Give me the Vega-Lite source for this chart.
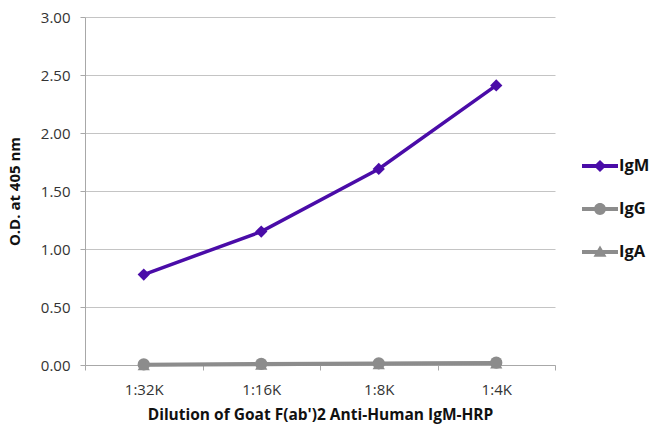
{
  "$schema": "https://vega.github.io/schema/vega-lite/v6.json",
  "width": 470,
  "height": 348,
  "autosize": {"type": "none"},
  "padding": {"left": 85, "top": 17, "right": 95, "bottom": 65},
  "background": "white",
  "config": {
    "view": {"stroke": null},
    "font": "Open Sans"
  },
  "data": {
    "values": [
      {"dilution": "1:32K", "series": "IgA", "od": 0.0, "ord": 1},
      {"dilution": "1:16K", "series": "IgA", "od": 0.005, "ord": 1},
      {"dilution": "1:8K", "series": "IgA", "od": 0.01, "ord": 1},
      {"dilution": "1:4K", "series": "IgA", "od": 0.015, "ord": 1},
      {"dilution": "1:32K", "series": "IgG", "od": 0.005, "ord": 2},
      {"dilution": "1:16K", "series": "IgG", "od": 0.01, "ord": 2},
      {"dilution": "1:8K", "series": "IgG", "od": 0.015, "ord": 2},
      {"dilution": "1:4K", "series": "IgG", "od": 0.02, "ord": 2},
      {"dilution": "1:32K", "series": "IgM", "od": 0.78, "ord": 3},
      {"dilution": "1:16K", "series": "IgM", "od": 1.15, "ord": 3},
      {"dilution": "1:8K", "series": "IgM", "od": 1.69, "ord": 3},
      {"dilution": "1:4K", "series": "IgM", "od": 2.41, "ord": 3}
    ]
  },
  "encoding": {
    "x": {
      "field": "dilution",
      "type": "nominal",
      "sort": ["1:32K", "1:16K", "1:8K", "1:4K"],
      "scale": {"paddingInner": 0, "paddingOuter": 0},
      "axis": {
        "title": "Dilution of Goat F(ab')2 Anti-Human IgM-HRP",
        "titleFont": "Open Sans",
        "titleFontSize": 15.5,
        "titleFontWeight": "bold",
        "titleColor": "#111111",
        "titlePadding": 10,
        "labelAngle": 0,
        "labelFont": "Open Sans",
        "labelFontSize": 15,
        "labelColor": "#333333",
        "labelPadding": 12,
        "tickBand": "extent",
        "tickSize": 5,
        "tickColor": "#a8a8a8",
        "domainColor": "#a8a8a8",
        "grid": false
      }
    },
    "y": {
      "field": "od",
      "type": "quantitative",
      "scale": {"domain": [0, 3]},
      "axis": {
        "title": "O.D. at 405 nm",
        "titleFont": "Open Sans",
        "titleFontSize": 15,
        "titleFontWeight": "bold",
        "titleColor": "#111111",
        "titlePadding": 18,
        "values": [0, 0.5, 1, 1.5, 2, 2.5, 3],
        "format": ".2f",
        "labelFont": "Open Sans",
        "labelFontSize": 15,
        "labelColor": "#333333",
        "labelPadding": 10,
        "tickSize": 5,
        "tickColor": "#a8a8a8",
        "domainColor": "#a8a8a8",
        "gridColor": "#c4c4c4",
        "grid": true
      }
    },
    "color": {
      "field": "series",
      "type": "nominal",
      "sort": ["IgM", "IgG", "IgA"],
      "scale": {"domain": ["IgM", "IgG", "IgA"], "range": ["#4a0ca8", "#8c8c8c", "#8c8c8c"]},
      "legend": {
        "title": null,
        "orient": "none",
        "legendX": 497,
        "legendY": 131,
        "symbolSize": 1296,
        "symbolOpacity": 1,
        "symbolStrokeWidth": 0,
        "rowPadding": 16,
        "labelFont": "Open Sans",
        "labelFontSize": 16.5,
        "labelFontWeight": "bold",
        "labelColor": "#111111",
        "labelOffset": 1
      }
    },
    "order": {"field": "ord"}
  },
  "layer": [
    {
      "mark": {"type": "line", "strokeWidth": 3.5},
      "encoding": {"detail": {"field": "series"}}
    },
    {
      "transform": [{"filter": "datum.series === 'IgA'"}],
      "mark": {"type": "point", "filled": true, "opacity": 1, "size": 150, "shape": "triangle-up"}
    },
    {
      "transform": [{"filter": "datum.series === 'IgG'"}],
      "mark": {"type": "point", "filled": true, "opacity": 1, "size": 150, "shape": "circle"}
    },
    {
      "transform": [{"filter": "datum.series === 'IgM'"}],
      "mark": {"type": "point", "filled": true, "opacity": 1, "size": 150, "shape": "diamond"}
    },
    {
      "transform": [{"filter": "datum.od < -1"}],
      "mark": {"type": "point", "filled": true, "opacity": 1},
      "encoding": {
        "shape": {
          "field": "series",
          "type": "nominal",
          "sort": ["IgM", "IgG", "IgA"],
          "scale": {
            "domain": ["IgM", "IgG", "IgA"],
            "range": [
              "M-1,-0.11L1,-0.11L1,0.11L-1,0.11Z M0,-0.34L0.34,0L0,0.34L-0.34,0Z",
              "M-1,-0.11L1,-0.11L1,0.11L-1,0.11Z M-0.33,0A0.33,0.33,0,0,1,0.33,0A0.33,0.33,0,0,1,-0.33,0Z",
              "M-1,-0.11L1,-0.11L1,0.11L-1,0.11Z M0,-0.36L0.36,0.26L-0.36,0.26Z"
            ]
          }
        }
      }
    }
  ]
}
